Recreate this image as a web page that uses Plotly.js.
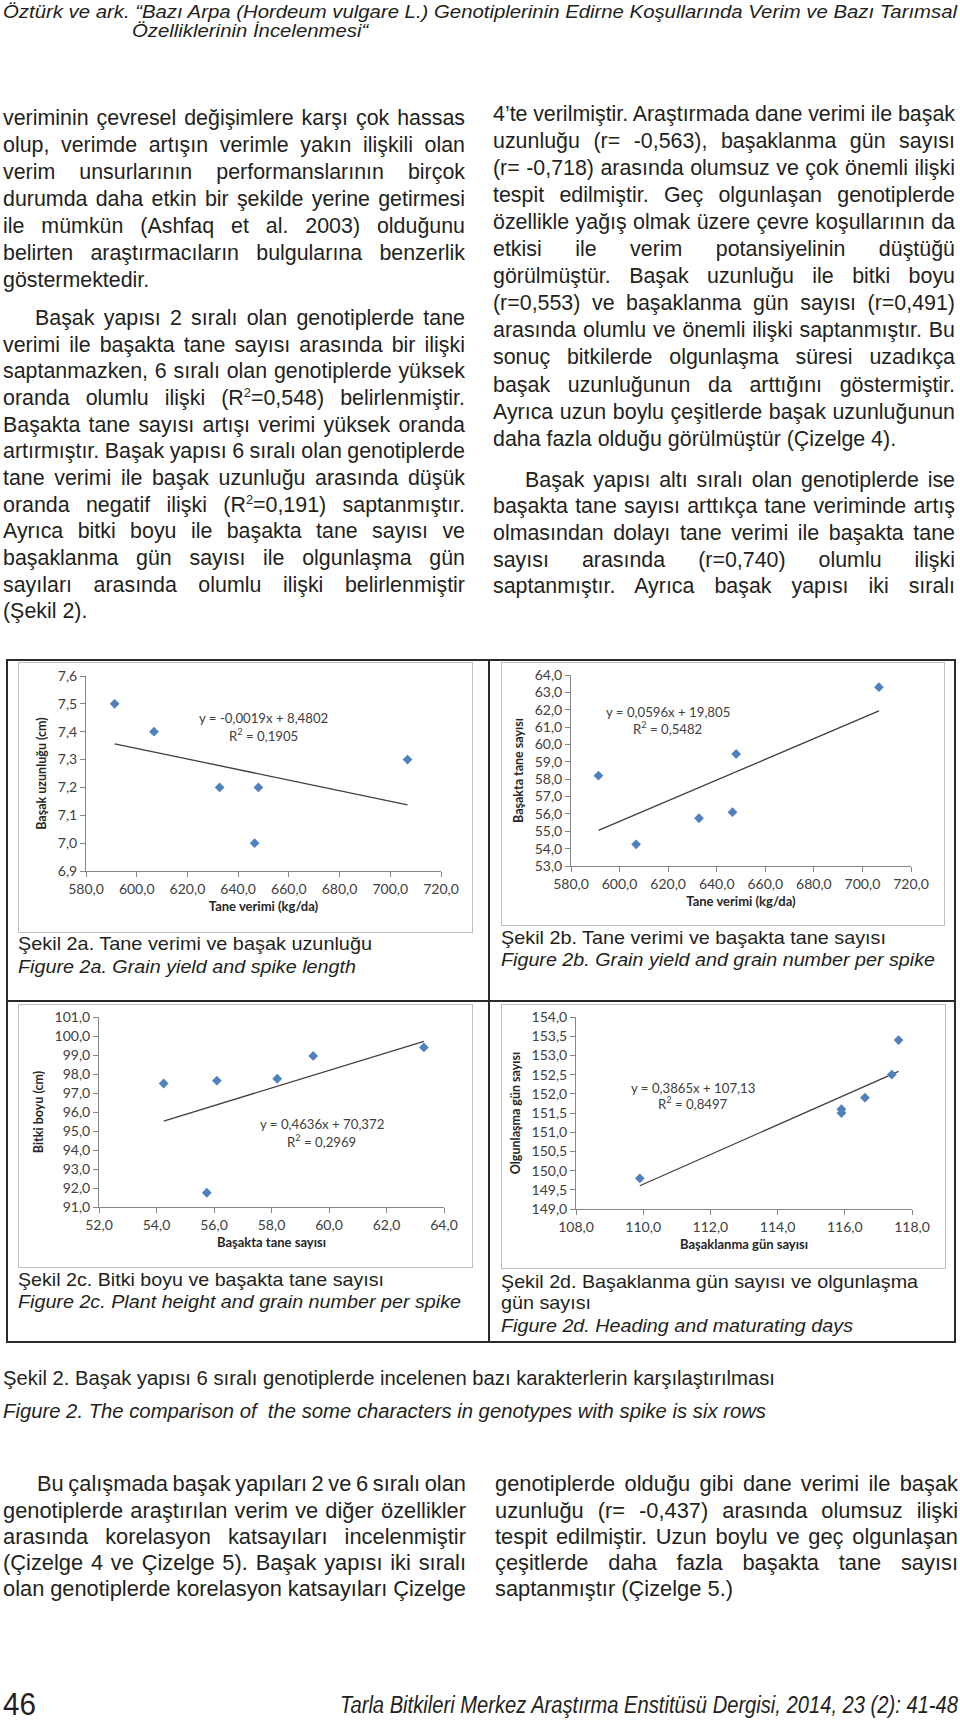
<!DOCTYPE html>
<html><head><meta charset="utf-8">
<script src="https://cdn.plot.ly/plotly-3.0.1.min.js"></script>
<style>
html,body{margin:0;padding:0;background:#fff;}
body{width:960px;height:1722px;position:relative;overflow:hidden;font-family:"Liberation Sans",Arial,sans-serif;color:#231f20;}
.ln{position:absolute;white-space:nowrap;transform-origin:0 50%;line-height:1.2;font-family:"Liberation Sans",Arial,sans-serif;}
.ln sup{font-size:0.6em;vertical-align:0.6em;line-height:0;}
.frame{position:absolute;border:1px solid #bfbfbf;box-sizing:border-box;}
.plot{position:absolute;}
.rule{position:absolute;background:#2a2a2a;}
</style></head><body>
<div class="rule" style="left:6px;top:659px;width:950px;height:2px"></div>
<div class="rule" style="left:6px;top:1341px;width:950px;height:2px"></div>
<div class="rule" style="left:6px;top:659px;width:2px;height:684px"></div>
<div class="rule" style="left:954px;top:659px;width:2px;height:684px"></div>
<div class="rule" style="left:488px;top:659px;width:1.5px;height:684px"></div>
<div class="rule" style="left:6px;top:1000px;width:950px;height:1.5px"></div>
<div class="frame" style="left:18px;top:662px;width:455px;height:271px"></div>
<div class="frame" style="left:501px;top:662px;width:444px;height:264px"></div>
<div class="frame" style="left:18px;top:1004px;width:455px;height:264px"></div>
<div class="frame" style="left:501px;top:1004px;width:445px;height:265px"></div>
<div class="plot" id="c2a" style="left:18px;top:662px"></div>
<div class="plot" id="c2b" style="left:501px;top:662px"></div>
<div class="plot" id="c2c" style="left:18px;top:1004px"></div>
<div class="plot" id="c2d" style="left:501px;top:1004px"></div>
<script>
// ---------------- chart data ----------------
const grainYield   = [591.3, 606.8, 632.7, 646.5, 648.0, 706.8];   // Tane verimi (kg/da)
const spikeLength  = [7.5, 7.4, 7.2, 7.0, 7.2, 7.3];               // Başak uzunluğu (cm)
const grainNumber  = [58.2, 54.25, 55.75, 56.1, 59.45, 63.3];      // Başakta tane sayısı
const plantHeight  = [97.75, 97.5, 91.75, 97.65, 98.95, 99.4];     // Bitki boyu (cm)
const headingDays  = [109.9, 115.9, 115.9, 116.6, 117.4, 117.6];   // Başaklanma gün sayısı
const maturityDays = [149.8, 151.6, 151.5, 151.9, 152.5, 153.4];   // Olgunlaşma gün sayısı

const trendSlope     = [-0.0019, 0.0596, 0.4636, 0.3865];
const trendIntercept = [8.4802, 19.805, 70.372, 107.13];
const eqLabels = ['y = -0,0019x + 8,4802', 'y = 0,0596x + 19,805', 'y = 0,4636x + 70,372', 'y = 0,3865x + 107,13'];
const r2Labels = ['R<sup>2</sup> = 0,1905', 'R<sup>2</sup> = 0,5482', 'R<sup>2</sup> = 0,2969', 'R<sup>2</sup> = 0,8497'];
const xTitles = ['Tane verimi (kg/da)', 'Tane verimi (kg/da)', 'Başakta tane sayısı', 'Başaklanma gün sayısı'];
const yTitles = ['Başak uzunluğu (cm)', 'Başakta tane sayısı', 'Bitki boyu (cm)', 'Olgunlaşma gün sayısı'];
const xRanges = [[580, 720], [580, 720], [52, 64], [108, 118]];
const yRanges = [[6.9, 7.6], [53, 64], [91, 101], [149, 154]];
const xSteps = [20, 20, 2, 2];
const ySteps = [0.1, 1, 1, 0.5];

// ---------------- chart layout ----------------
const charts = [
  {id:'c2a', x:grainYield, y:spikeLength, w:455, h:271, m:{l:68,r:32,t:14,b:62}, eq:[0.499,0.785,0.697]},
  {id:'c2b', x:grainYield, y:grainNumber, w:444, h:264, m:{l:70,r:34,t:13,b:60}, eq:[0.285,0.806,0.723]},
  {id:'c2c', x:grainNumber, y:plantHeight, w:455, h:264, m:{l:81,r:29,t:13,b:61}, eq:[0.646,0.437,0.347]},
  {id:'c2d', x:headingDays, y:maturityDays, w:445, h:265, m:{l:75,r:34,t:13,b:60}, eq:[0.348,0.630,0.552]}
];
const AX = '#868686';
const TXT = '#404040';
const CF = 'Lato, sans-serif';
charts.forEach((c, i) => {
  const xs = [Math.min(...c.x), Math.max(...c.x)];
  const data = [
    {type:'scatter', mode:'lines', x:xs, y:xs.map(v => trendSlope[i]*v + trendIntercept[i]),
     line:{color:'#3f3f3f', width:1.3}, hoverinfo:'skip'},
    {type:'scatter', mode:'markers', x:c.x, y:c.y,
     marker:{symbol:'diamond', size:7.5, color:'#4f81bd', line:{width:0}}}
  ];
  const axisBase = {showgrid:false, zeroline:false, showline:true, linecolor:AX, linewidth:1,
    ticks:'outside', ticklen:5, tickcolor:AX, tickwidth:1, tickformat:'.1f', automargin:false,
    tickfont:{family:CF, size:14, color:TXT}};
  const layout = {
    width:c.w, height:c.h, margin:Object.assign({pad:0}, c.m), showlegend:false,
    paper_bgcolor:'rgba(0,0,0,0)', plot_bgcolor:'rgba(0,0,0,0)', separators:',.',
    font:{family:CF, size:14, color:TXT},
    xaxis:Object.assign({}, axisBase, {range:xRanges[i], tick0:xRanges[i][0], dtick:xSteps[i],
      title:{text:xTitles[i], standoff:6, font:{family:CF, size:13, color:'#262626', weight:'bold'}}}),
    yaxis:Object.assign({}, axisBase, {range:yRanges[i], tick0:yRanges[i][0], dtick:ySteps[i],
      title:{text:yTitles[i], standoff:8, font:{family:CF, size:12.5, color:'#262626', weight:'bold'}}}),
    annotations:[
      {xref:'paper', yref:'paper', x:c.eq[0], y:c.eq[1], text:eqLabels[i], showarrow:false,
       font:{family:CF, size:13.2, color:TXT}, xanchor:'center', yanchor:'middle'},
      {xref:'paper', yref:'paper', x:c.eq[0], y:c.eq[2], text:r2Labels[i], showarrow:false,
       font:{family:CF, size:13.2, color:TXT}, xanchor:'center', yanchor:'middle'}
    ]
  };
  Plotly.newPlot(c.id, data, layout, {staticPlot:true, displayModeBar:false});
});

// ---------------- page text ----------------
const FS = 21.4;
// [html, left x, centre y, font size, target width, mode (f=fit, j=justify, n=natural), style, group]
const textLines = [
  ['Öztürk ve ark. “Bazı Arpa (Hordeum vulgare L.) Genotiplerinin Edirne Koşullarında Verim ve Bazı Tarımsal', 3, 13, 18.5, 954, 'f', 'i', 'h'],
  ['Özelliklerinin İncelenmesi“', 132, 32, 18.5, 0, 'n', 'i', 'h'],

  ['veriminin çevresel değişimlere karşı çok hassas', 3, 120, FS, 462, 'j'],
  ['olup, verimde artışın verimle yakın ilişkili olan', 3, 147, FS, 462, 'j'],
  ['verim unsurlarının performanslarının birçok', 3, 174, FS, 462, 'j'],
  ['durumda daha etkin bir şekilde yerine getirmesi', 3, 201, FS, 462, 'j'],
  ['ile mümkün (Ashfaq et al. 2003) olduğunu', 3, 228, FS, 462, 'j'],
  ['belirten araştırmacıların bulgularına benzerlik', 3, 255, FS, 462, 'j'],
  ['göstermektedir.', 3, 282, FS, 0, 'n'],
  ['Başak yapısı 2 sıralı olan genotiplerde tane', 35, 320, FS, 430, 'j'],
  ['verimi ile başakta tane sayısı arasında bir ilişki', 3, 347, FS, 462, 'j'],
  ['saptanmazken, 6 sıralı olan genotiplerde yüksek', 3, 373, FS, 462, 'j'],
  ['oranda olumlu ilişki (R<sup>2</sup>=0,548) belirlenmiştir.', 3, 400, FS, 462, 'j'],
  ['Başakta tane sayısı artışı verimi yüksek oranda', 3, 427, FS, 462, 'j'],
  ['artırmıştır. Başak yapısı 6 sıralı olan genotiplerde', 3, 453, FS, 462, 'j'],
  ['tane verimi ile başak uzunluğu arasında düşük', 3, 480, FS, 462, 'j'],
  ['oranda negatif ilişki (R<sup>2</sup>=0,191) saptanmıştır.', 3, 507, FS, 462, 'j'],
  ['Ayrıca bitki boyu ile başakta tane sayısı ve', 3, 533, FS, 462, 'j'],
  ['başaklanma gün sayısı ile olgunlaşma gün', 3, 560, FS, 462, 'j'],
  ['sayıları arasında olumlu ilişki belirlenmiştir', 3, 587, FS, 462, 'j'],
  ['(Şekil 2).', 3, 613, FS, 0, 'n'],

  ['4’te verilmiştir. Araştırmada dane verimi ile başak', 493, 116, FS, 462, 'j'],
  ['uzunluğu (r= -0,563), başaklanma gün sayısı', 493, 143, FS, 462, 'j'],
  ['(r= -0,718) arasında olumsuz ve çok önemli ilişki', 493, 170, FS, 462, 'j'],
  ['tespit edilmiştir. Geç olgunlaşan genotiplerde', 493, 197, FS, 462, 'j'],
  ['özellikle yağış olmak üzere çevre koşullarının da', 493, 224, FS, 462, 'j'],
  ['etkisi ile verim potansiyelinin düştüğü', 493, 251, FS, 462, 'j'],
  ['görülmüştür. Başak uzunluğu ile bitki boyu', 493, 278, FS, 462, 'j'],
  ['(r=0,553) ve başaklanma gün sayısı (r=0,491)', 493, 305, FS, 462, 'j'],
  ['arasında olumlu ve önemli ilişki saptanmıştır. Bu', 493, 332, FS, 462, 'j'],
  ['sonuç bitkilerde olgunlaşma süresi uzadıkça', 493, 359, FS, 462, 'j'],
  ['başak uzunluğunun da arttığını göstermiştir.', 493, 387, FS, 462, 'j'],
  ['Ayrıca uzun boylu çeşitlerde başak uzunluğunun', 493, 414, FS, 462, 'j'],
  ['daha fazla olduğu görülmüştür (Çizelge 4).', 493, 441, FS, 0, 'n'],
  ['Başak yapısı altı sıralı olan genotiplerde ise', 525, 482, FS, 430, 'j'],
  ['başakta tane sayısı arttıkça tane veriminde artış', 493, 508, FS, 462, 'j'],
  ['olmasından dolayı tane verimi ile başakta tane', 493, 535, FS, 462, 'j'],
  ['sayısı arasında (r=0,740) olumlu ilişki', 493, 562, FS, 462, 'j'],
  ['saptanmıştır. Ayrıca başak yapısı iki sıralı', 493, 588, FS, 462, 'j'],

  ['Şekil 2a. Tane verimi ve başak uzunluğu', 18, 945, 18.5, 354, 'f', ''],
  ['Figure 2a. Grain yield and spike length', 18, 968, 18.5, 338, 'f', 'i'],
  ['Şekil 2b. Tane verimi ve başakta tane sayısı', 501, 939, 18.5, 385, 'f', ''],
  ['Figure 2b. Grain yield and grain number per spike', 501, 961, 18.5, 434, 'f', 'i'],
  ['Şekil 2c. Bitki boyu ve başakta tane sayısı', 18, 1281, 18.5, 366, 'f', ''],
  ['Figure 2c. Plant height and grain number per spike', 18, 1303, 18.5, 443, 'f', 'i'],
  ['Şekil 2d. Başaklanma gün sayısı ve olgunlaşma', 501, 1283, 18.5, 417, 'f', ''],
  ['gün sayısı', 501, 1304, 18.5, 90, 'f', ''],
  ['Figure 2d. Heading and maturating days', 501, 1327, 18.5, 352, 'f', 'i'],

  ['Şekil 2. Başak yapısı 6 sıralı genotiplerde incelenen bazı karakterlerin karşılaştırılması', 3, 1380, 20.5, 772, 'f', ''],
  ['Figure 2. The comparison of&nbsp; the some characters in genotypes with spike is six rows', 3, 1413, 20.5, 763, 'f', 'i'],

  ['saptanmıştır (Çizelge 5.)', 495, 1590, 22.5, 238, 'f', '', 'b'],
  ['Bu çalışmada başak yapıları 2 ve 6 sıralı olan', 37, 1485, 22.5, 429, 'j', '', 'b'],
  ['genotiplerde araştırılan verim ve diğer özellikler', 3, 1512, 22.5, 463, 'j', '', 'b'],
  ['arasında korelasyon katsayıları incelenmiştir', 3, 1538, 22.5, 463, 'j', '', 'b'],
  ['(Çizelge 4 ve Çizelge 5). Başak yapısı iki sıralı', 3, 1564, 22.5, 463, 'j', '', 'b'],
  ['olan genotiplerde korelasyon katsayıları Çizelge', 3, 1590, 22.5, 463, 'j', '', 'b'],
  ['genotiplerde olduğu gibi dane verimi ile başak', 495, 1485, 22.5, 463, 'j', '', 'b'],
  ['uzunluğu (r= -0,437) arasında olumsuz ilişki', 495, 1512, 22.5, 463, 'j', '', 'b'],
  ['tespit edilmiştir. Uzun boylu ve geç olgunlaşan', 495, 1538, 22.5, 463, 'j', '', 'b'],
  ['çeşitlerde daha fazla başakta tane sayısı', 495, 1564, 22.5, 463, 'j', '', 'b'],

  ['46', 3, 1707, 31, 33, 'f', ''],
  ['Tarla Bitkileri Merkez Araştırma Enstitüsü Dergisi, 2014, 23 (2): 41-48', 340, 1707, 23, 618, 'f', 'i']
];

const groupScale = {};
function makeLine(L) {
  const [html, x, y, fs, w, mode, style, group] = L;
  const el = document.createElement('div');
  el.className = 'ln';
  el.innerHTML = html;
  el.style.left = x + 'px';
  el.style.top = (y - 0.67 * fs) + 'px';
  el.style.fontSize = fs + 'px';
  if (style === 'i') el.style.fontStyle = 'italic';
  document.body.appendChild(el);
  return el;
}
// pass 1: fitted lines (define group scales)
textLines.forEach(L => {
  if (L[5] !== 'f') return;
  const el = makeLine(L);
  const n = el.getBoundingClientRect().width;
  const s = L[4] / n;
  if (L[7]) groupScale[L[7]] = s;
  el.style.transform = 'scaleX(' + s + ')';
});
// pass 2: justified / natural lines
textLines.forEach(L => {
  if (L[5] === 'f') return;
  const el = makeLine(L);
  const s = L[7] && groupScale[L[7]] ? groupScale[L[7]] : 1;
  if (L[5] === 'j') {
    const n = el.getBoundingClientRect().width;
    const k = (el.textContent.match(/ /g) || []).length;
    if (k > 0) el.style.wordSpacing = ((L[4] / s - n) / k) + 'px';
  }
  if (s !== 1) el.style.transform = 'scaleX(' + s + ')';
});
</script>
</body></html>
